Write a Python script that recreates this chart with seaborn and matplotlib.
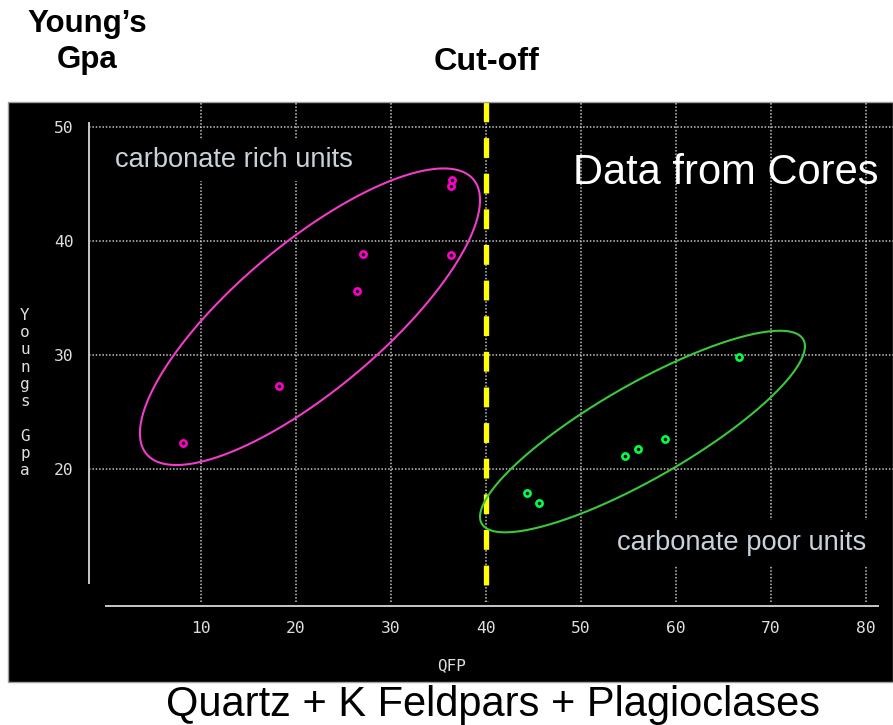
import numpy as np
import pandas as pd
import matplotlib
matplotlib.use("Agg")
import matplotlib.pyplot as plt
import seaborn as sns
from matplotlib.patches import Rectangle

# ---------------- data ----------------
rich_qfp = [8.1, 18.2, 26.5, 27.1, 36.3, 36.3, 36.5]
rich_young = [22.3, 27.3, 35.6, 38.9, 38.8, 44.85, 45.4]
poor_qfp = [44.35, 45.6, 54.7, 56.0, 58.9, 66.7]
poor_young = [17.9, 17.0, 21.1, 21.8, 22.6, 29.85]
x_ticks = [10, 20, 30, 40, 50, 60, 70, 80]
y_ticks = [20, 30, 40, 50]
cutoff_qfp = 40
# ellipse outlines: centre x, centre y, half-extent x, half-extent y, phase (deg)
rich_ellipse = (21.5, 33.37, 17.9, 13.02, 38.2)
poor_ellipse = (56.5, 23.29, 17.1, 8.85, 32.3)

df = pd.DataFrame({
    "qfp": rich_qfp + poor_qfp,
    "young": rich_young + poor_young,
    "group": ["rich"] * len(rich_qfp) + ["poor"] * len(poor_qfp),
})

sns.set_style("dark")
plt.rcParams["font.family"] = ["Liberation Sans", "DejaVu Sans"]

W, H = 893, 725
fig = plt.figure(figsize=(W / 100, H / 100), dpi=100, facecolor="white")
px_l, px_r, px_t, px_b = 8, 893, 101.7, 682
ax = fig.add_axes([px_l / W, (H - px_b) / H, (px_r - px_l) / W, (px_b - px_t) / H])
ax.set_facecolor("black")

XMIN, XMAX = -10.284, 82.87
YMIN, YMAX = 1.299, 52.25
ax.set_xlim(XMIN, XMAX)
ax.set_ylim(YMIN, YMAX)

axis_col = "#c8c8c8"
lab_col = "#dedede"
x_axis_at, y_axis_at = 8.0, -1.76
for s in ["top", "right"]:
    ax.spines[s].set_visible(False)
ax.spines["left"].set_position(("data", y_axis_at))
ax.spines["left"].set_bounds(10, 50.4)
ax.spines["bottom"].set_position(("data", x_axis_at))
ax.spines["bottom"].set_bounds(0, 81.3)
for s in ["left", "bottom"]:
    ax.spines[s].set_color(axis_col)
    ax.spines[s].set_linewidth(1.4)
    ax.spines[s].set_zorder(3)

ax.set_xticks(x_ticks)
ax.set_yticks(y_ticks)
ax.set_xticklabels([str(v) for v in x_ticks])
ax.set_yticklabels([str(v) for v in y_ticks])
ax.tick_params(axis="y", direction="inout", length=8.6, width=1.4, color=axis_col,
               pad=6.8, labelsize=11.8, labelcolor=lab_col)
ax.tick_params(axis="x", direction="inout", length=7.2, width=1.4, color=axis_col,
               pad=7.4, labelsize=11.8, labelcolor=lab_col)
for lab in ax.get_xticklabels() + ax.get_yticklabels():
    lab.set_fontfamily("DejaVu Sans Mono")
ax.grid(False)

# dotted grid, limited to the axis frame like the original
grid_kw = dict(color="#c4c4c4", lw=1.1, zorder=1)
for yv in y_ticks:
    ax.plot([y_axis_at, XMAX], [yv, yv], dashes=(1, 1.2), **grid_kw)
for xv in x_ticks:
    ax.plot([xv, xv], [x_axis_at + 0.3, YMAX], dashes=(1, 1.2), **grid_kw)

# cut-off line
ax.plot([cutoff_qfp, cutoff_qfp], [YMAX, 8.4], color="#ffff00", lw=3.8,
        dashes=(3.75, 3.0), solid_capstyle="butt", dash_capstyle="butt", zorder=4)

# ellipses
t = np.linspace(0, 2 * np.pi, 400)
for (cx, cy, rx, ry, ph), col in [(rich_ellipse, "#f03cc8"), (poor_ellipse, "#3cc83c")]:
    ax.plot(cx + rx * np.cos(t), cy + ry * np.cos(t + np.deg2rad(ph)),
            color=col, lw=1.5, zorder=4)

# points
for grp, col in [("rich", "#ff00c8"), ("poor", "#00ff44")]:
    sub = df[df["group"] == grp]
    sns.scatterplot(data=sub, x="qfp", y="young", ax=ax, s=20, marker="o",
                    facecolor="black", edgecolor=col, linewidth=1.9, zorder=5,
                    legend=False)

# axis labels
ax.set_xlabel("QFP", fontfamily="DejaVu Sans Mono", fontsize=11.5, color=lab_col,
              ha="center", va="center")
ax.xaxis.set_label_coords((452 - px_l) / (px_r - px_l), (px_b - 666) / (px_b - px_t))
ax.set_ylabel("Y\no\nu\nn\ng\ns\n\nG\np\na", rotation=0, fontfamily="DejaVu Sans Mono",
              fontsize=11.5, color=lab_col, ha="center", va="center", linespacing=1.19)
ax.yaxis.set_label_coords((25 - px_l) / (px_r - px_l), (px_b - 393) / (px_b - px_t))

# annotations
ax.text(0.98, 47.13, "carbonate rich units", color="#c8d2dc", fontsize=19.6,
        ha="left", va="center", zorder=6,
        bbox=dict(facecolor="black", edgecolor="none", pad=5.8))
ax.text(53.82, 13.5, "carbonate poor units", color="#c8d2dc", fontsize=19.7,
        ha="left", va="center", zorder=6,
        bbox=dict(facecolor="black", edgecolor="none", pad=6.8))
ax.text(49.19, 45.99, "Data from Cores", color="white", fontsize=30,
        ha="left", va="center", zorder=6)

# panel border
ax.add_patch(Rectangle((0, 0), 1, 1, transform=ax.transAxes, facecolor="none",
                       edgecolor="#a0a0a0", lw=1.0, clip_on=False, zorder=7))

# figure texts
fig.text(87.5 / W, 1 - 42 / H, "Young\u2019s\nGpa", fontsize=22.5, fontweight="bold",
         ha="center", va="center", linespacing=1.27, color="black")
fig.text(486.5 / W, 1 - 62 / H, "Cut-off", fontsize=23.3, fontweight="bold",
         ha="center", va="center", color="black")
fig.text(493 / W, 1 - 705 / H, "Quartz + K Feldpars + Plagioclases", fontsize=30,
         ha="center", va="center", color="black")

fig.savefig("out.png", dpi=100, facecolor="white")
